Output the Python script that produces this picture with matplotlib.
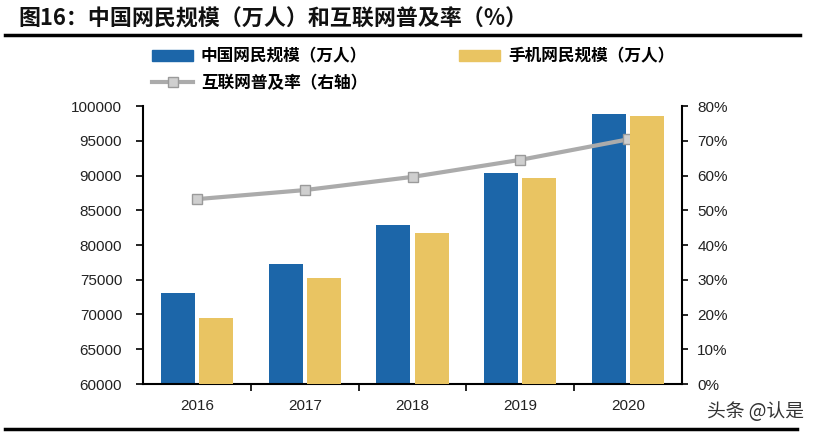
import matplotlib
matplotlib.use("Agg")
import matplotlib.pyplot as plt
from matplotlib.lines import Line2D
from matplotlib.patches import Patch
from matplotlib.ticker import MultipleLocator, FuncFormatter
import numpy as np

years = ["2016", "2017", "2018", "2019", "2020"]
netizens = [73125, 77198, 82851, 90359, 98899]
mobile_netizens = [69531, 75265, 81698, 89690, 98576]
penetration = [53.2, 55.8, 59.6, 64.5, 70.4]

title = "图16：中国网民规模（万人）和互联网普及率（%）"
label_net = "中国网民规模（万人）"
label_mobile = "手机网民规模（万人）"
label_rate = "互联网普及率（右轴）"
watermark = "头条 @认是"

blue = "#1C66A9"
yellow = "#E9C462"
gray = "#ABABAB"

cjk = ["Noto Sans CJK SC", "DejaVu Sans"]
lat = ["Liberation Sans", "DejaVu Sans"]

W, H = 818, 436
fig = plt.figure(figsize=(W / 100, H / 100), dpi=100)
fig.patch.set_facecolor("white")

ax = fig.add_axes([143 / W, 1 - 384 / H, (682 - 143) / W, (384 - 106) / H])
ax2 = ax.twinx()

x = np.arange(len(years))
bw = 0.315
off = 0.177
ax.bar(x - off, netizens, bw, color=blue, zorder=2)
ax.bar(x + off, mobile_netizens, bw, color=yellow, zorder=4)
ax.plot(x, penetration, transform=ax2.transData, color=gray, lw=3, zorder=3,
        marker="s", markersize=7, markerfacecolor="#CFCFCF", markeredgecolor="#9A9A9A",
        markeredgewidth=1)

ax.set_xlim(-0.5, len(years) - 0.5)
ax.set_ylim(60000, 100000)
ax2.set_ylim(0, 80)
ax.yaxis.set_major_locator(MultipleLocator(5000))
ax2.yaxis.set_major_locator(MultipleLocator(10))
ax2.yaxis.set_major_formatter(FuncFormatter(lambda v, p: f"{v:.0f}%"))

ax.set_xticks(x)
ax.set_xticklabels(years)
ax.set_xticks(np.arange(len(years) - 1) + 0.5, minor=True)
ax.tick_params(axis="x", which="major", length=0, pad=11, labelsize=11, colors="#222222")
ax.tick_params(axis="x", which="minor", length=5, width=1.2, direction="out", color="black")
ax.tick_params(axis="y", length=5, width=1.2, direction="out", pad=10, labelsize=11,
               colors="#222222")
ax.tick_params(axis="y", color="black")
ax2.tick_params(axis="y", length=4, width=1.2, direction="out", pad=7, labelsize=11,
                colors="#222222")
ax2.tick_params(axis="y", color="black")

for a in (ax, ax2):
    for lab in a.get_xticklabels() + a.get_yticklabels():
        lab.set_fontfamily(lat)
    a.spines["top"].set_visible(False)
ax.spines["right"].set_visible(False)
ax2.spines["left"].set_visible(False)
ax2.spines["bottom"].set_visible(False)
ax.spines["left"].set_linewidth(1.5)
ax.spines["bottom"].set_linewidth(1.5)
ax2.spines["right"].set_linewidth(1.5)
ax.set_facecolor("none")

# Title and rules
fig.text(18 / W, 1 - 19 / H, title, fontsize=15.8, fontweight="bold", family=cjk,
         va="center", ha="left", color="#111111")
fig.add_artist(Line2D([5 / W, 800 / W], [1 - 35 / H] * 2, color="black", lw=2.5))
fig.add_artist(Line2D([5 / W, 797 / W], [1 - 429 / H] * 2, color="black", lw=2.5))

# Legend
handles = [Patch(color=blue),
           Line2D([], [], color=gray, lw=3, marker="s", markersize=7,
                  markerfacecolor="#CFCFCF", markeredgecolor="#9A9A9A"),
           Patch(color=yellow)]
labels = [label_net, label_rate, label_mobile]
leg = fig.legend(handles, labels, ncol=2, loc="upper left",
                 bbox_to_anchor=(145 / W, 1 - 41 / H), frameon=False,
                 prop={"family": cjk, "weight": 900, "size": 12},
                 handlelength=2.5, handleheight=0.6, handletextpad=0.45,
                 columnspacing=5.5, labelspacing=0.5, borderaxespad=0)

fig.text(804 / W, 1 - 411 / H, watermark, fontsize=13.5, family=cjk, ha="right",
         va="center", color="#333333")

fig.savefig("out.png", dpi=100)
